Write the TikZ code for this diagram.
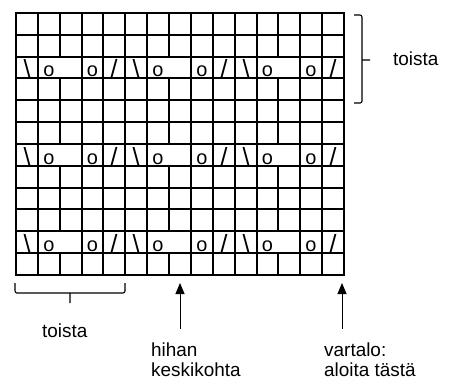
\documentclass[tikz,border=0pt]{standalone}
\usepackage{fontspec}
\setmainfont{Liberation Sans}
\usetikzlibrary{arrows.meta}

\newcommand*{\xmin}{16}
\newcommand*{\xmax}{344}
\newcommand*{\ymin}{13}
\newcommand*{\ymax}{275}

\begin{document}
\begin{tikzpicture}
[
	x=1bp,
	y=-1bp,
	gridline/.style={line width=2.4bp,black},
	stitch/.style={inner sep=0pt,anchor=base,font=\fontsize{20}{20}\selectfont},
	slant/.style={inner sep=0pt,anchor=base,font=\fontsize{25}{25}\selectfont},
	label/.style={inner sep=0pt,align=left,font=\fontsize{19}{20}\selectfont},
	brace/.style={line width=1.1bp,rounded corners=2bp},
	pointer/.style={line width=1bp,-{Triangle[width=9bp,length=11bp]}}
]

	\useasboundingbox (0,0) rectangle (452,381);

	% grid
	\foreach \y in {13,35,57,78,100,122,144,166,188,209,231,253,275} {
		\draw[gridline] (\xmin,\y) -- (\xmax,\y);
	}
	\foreach \x in {38,82,103,125,147,191,213,235,257,300,322} {
		\draw[gridline] (\x,\ymin) -- (\x,\ymax);
	}
	% broken lines next to the yarn overs
	\foreach \x in {60,169,278} {
		\draw[gridline]
		  (\x,13) -- (\x,57)
		  (\x,78) -- (\x,144)
		  (\x,166) -- (\x,231)
		  (\x,253) -- (\x,275)
		;
	}
	\draw[gridline,line cap=rect] (\xmin,\ymin) rectangle (\xmax,\ymax);

	% stitch symbols
	\foreach \b/\y in {57/76.4,144/164.4,231/251.4} {
		\foreach \xs/\xa/\xb/\xk in {27/49/92.5/114,136/158/202/224,246/267.5/311/333} {
			\node[slant] (ssk-\b-\xs) at (\xs,\y+0.8) {\textbackslash};
			\node[stitch] (yoa-\b-\xs) at (\xa,\y) {o};
			\node[stitch] (yob-\b-\xs) at (\xb,\y) {o};
			\node[slant] (ktog-\b-\xs) at (\xk,\y+0.8) {/};
		}
	}

	% repeat, rows
	\draw[brace]
	  (354,15) -- (362,15) -- (362,103) -- (354,103)
	  (362,60) -- (370,60)
	;
	\node[label,anchor=base west] (toistarows) at (393,65) {toista};

	% repeat, stitches
	\draw[brace]
	  (15,283) -- (15,293) -- (125,293) -- (125,283)
	  (70,293) -- (70,303)
	;
	\node[label,anchor=base west] (toistasts) at (42,337) {toista};

	% sleeve centre
	\coordinate (hihantail) at (180,329);
	\coordinate (hihantip) at (180,283);
	\draw[pointer] (hihantail) -- (hihantip);
	\node[label,anchor=north west] (hihan) at (151,343) {hihan\\keskikohta};

	% body start
	\coordinate (vartalotail) at (342,329);
	\coordinate (vartalotip) at (342,283);
	\draw[pointer] (vartalotail) -- (vartalotip);
	\node[label,anchor=north west] (vartalo) at (324,343) {vartalo:\\aloita tästä};

\end{tikzpicture}
\end{document}
